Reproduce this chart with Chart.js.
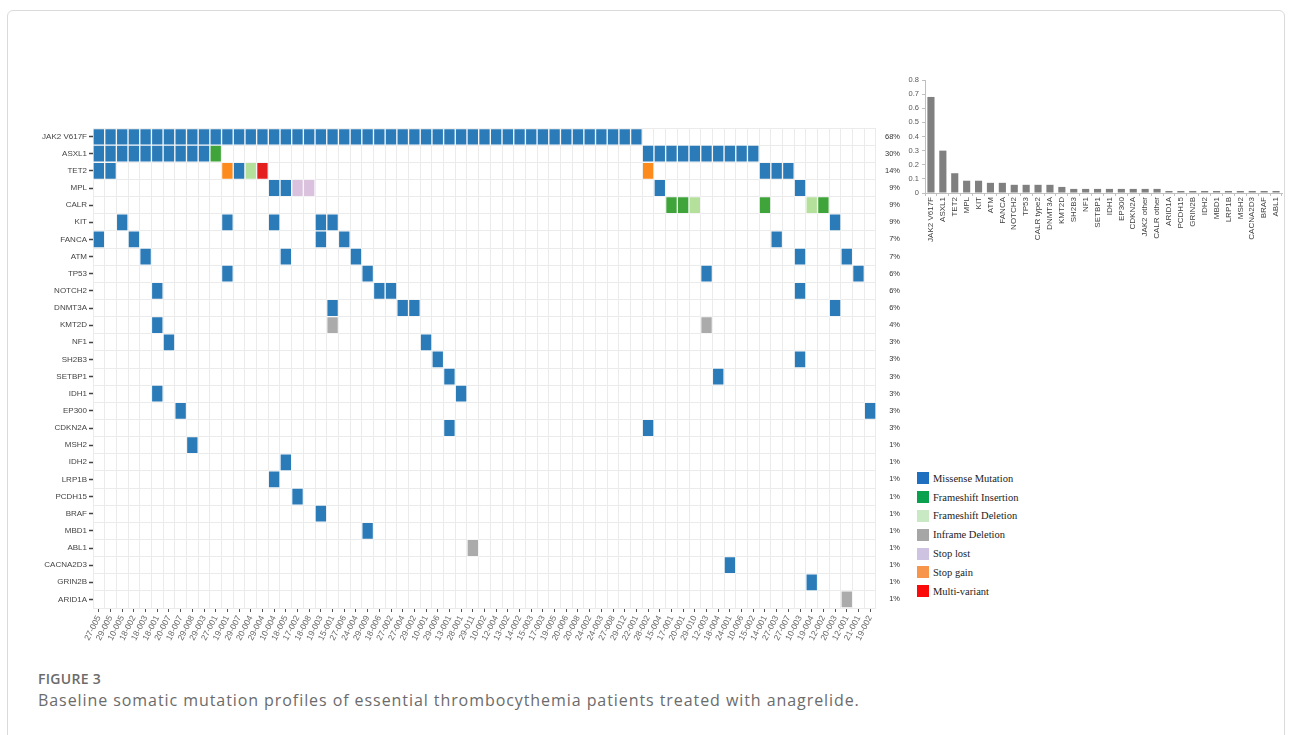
<!DOCTYPE html>
<html>
<head>
<meta charset="utf-8">
<script src="https://cdn.jsdelivr.net/npm/chart.js@4.4.1/dist/chart.umd.min.js"></script>
<style>
  html, body { margin: 0; padding: 0; background: #fff; width: 1293px; height: 735px; overflow: hidden; }
  .card { position: absolute; left: 7px; top: 10px; width: 1278px; height: 760px; border: 1px solid #dadada; border-radius: 6px; box-sizing: border-box; }
  #oncoprint { position: absolute; left: 0; top: 120px; }
  #freq { position: absolute; left: 895px; top: 70px; }
  .legend { position: absolute; left: 917px; top: 469px; font-family: 'Liberation Serif', serif; font-size: 10.5px; color: #222; }
  .legend .row { height: 18.8px; display: flex; align-items: center; white-space: nowrap; }
  .legend .sw { display: inline-block; width: 12px; height: 12px; margin-right: 4px; }
  .fig { position: absolute; left: 38px; top: 672px; font-family: 'Open Sans', sans-serif; font-weight: 600; font-size: 14px; line-height: 14px; letter-spacing: 0.3px; color: #6b6b6b; }
  .cap { position: absolute; left: 38px; top: 692px; font-family: 'Open Sans', sans-serif; font-size: 16px; line-height: 16px; letter-spacing: 0.93px; color: #6b6b6b; white-space: nowrap; }
</style>
</head>
<body>
<div class="card"></div>
<canvas id="oncoprint" width="900" height="533"></canvas>
<canvas id="freq" width="395" height="185"></canvas>
<div class="legend" id="legend"></div>
<div class="fig">FIGURE 3</div>
<div class="cap">Baseline somatic mutation profiles of essential thrombocythemia patients treated with anagrelide.</div>

<script>
// Patient identifiers (columns of the oncoprint)
const patients = [
  '27-005','29-005','10-005','18-002','18-003','18-001','20-007','18-007','29-008','29-003',
  '27-001','19-001','29-007','20-004','29-004','10-004','18-005','17-002','18-008','19-003',
  '15-001','27-006','24-004','29-009','18-006','27-002','27-004','29-002','10-001','29-006',
  '13-001','28-001','29-011','10-002','12-004','13-002','14-002','15-003','17-003','19-005',
  '20-006','20-008','24-002','24-003','27-008','29-012','22-001','28-002','15-004','17-001',
  '20-001','29-010','12-003','18-004','24-001','10-006','15-002','14-001','27-003','27-007',
  '10-003','19-004','12-002','20-003','12-001','21-001','19-002'
];

// Genes (rows) and their mutation frequency
const genes = [
  'JAK2 V617F','ASXL1','TET2','MPL','CALR','KIT','FANCA','ATM','TP53','NOTCH2',
  'DNMT3A','KMT2D','NF1','SH2B3','SETBP1','IDH1','EP300','CDKN2A','MSH2','IDH2',
  'LRP1B','PCDH15','BRAF','MBD1','ABL1','CACNA2D3','GRIN2B','ARID1A'
];
const genePct = [
  '68%','30%','14%','9%','9%','9%','7%','7%','6%','6%',
  '6%','4%','3%','3%','3%','3%','3%','3%','1%','1%',
  '1%','1%','1%','1%','1%','1%','1%','1%'
];

// Mutation codes per patient, one string per gene (blocks of 10 patients)
// M missense, I frameshift insertion, D frameshift deletion, F inframe deletion,
// L stop lost, G stop gain, V multi-variant, . wild type
const mutationRows = [
  'MMMMMMMMMM MMMMMMMMMM MMMMMMMMMM MMMMMMMMMM MMMMMMM... .......... .......', // JAK2 V617F
  'MMMMMMMMMM I......... .......... .......... .......MMM MMMMMMM... .......', // ASXL1
  'MM........ .GMDV..... .......... .......... .......G.. .......MMM .......', // TET2
  '.......... .....MMLL. .......... .......... ........M. .......... M......', // MPL
  '.......... .......... .......... .......... .........I ID.....I.. .DI....', // CALR
  '..M....... .M...M...M M......... .......... .......... .......... ...M...', // KIT
  'M..M...... .........M .M........ .......... .......... ........M. .......', // FANCA
  '....M..... ......M... ..M....... .......... .......... .......... M...M..', // ATM
  '.......... .M........ ...M...... .......... .......... ..M....... .....M.', // TP53
  '.....M.... .......... ....MM.... .......... .......... .......... M......', // NOTCH2
  '.......... .......... M.....MM.. .......... .......... .......... ...M...', // DNMT3A
  '.....M.... .......... F......... .......... .......... ..F....... .......', // KMT2D
  '......M... .......... ........M. .......... .......... .......... .......', // NF1
  '.......... .......... .........M .......... .......... .......... M......', // SH2B3
  '.......... .......... .......... M......... .......... ...M...... .......', // SETBP1
  '.....M.... .......... .......... .M........ .......... .......... .......', // IDH1
  '.......M.. .......... .......... .......... .......... .......... ......M', // EP300
  '.......... .......... .......... M......... .......M.. .......... .......', // CDKN2A
  '........M. .......... .......... .......... .......... .......... .......', // MSH2
  '.......... ......M... .......... .......... .......... .......... .......', // IDH2
  '.......... .....M.... .......... .......... .......... .......... .......', // LRP1B
  '.......... .......M.. .......... .......... .......... .......... .......', // PCDH15
  '.......... .........M .......... .......... .......... .......... .......', // BRAF
  '.......... .......... ...M...... .......... .......... .......... .......', // MBD1
  '.......... .......... .......... ..F....... .......... .......... .......', // ABL1
  '.......... .......... .......... .......... .......... ....M..... .......', // CACNA2D3
  '.......... .......... .......... .......... .......... .......... .M.....', // GRIN2B
  '.......... .......... .......... .......... .......... .......... ....F..'  // ARID1A
];

// Mutation classes
const typeCodes = ['M','I','D','F','L','G','V'];
const typeNames = ['Missense Mutation','Frameshift Insertion','Frameshift Deletion','Inframe Deletion','Stop lost','Stop gain','Multi-variant'];

// Frequency bar chart
const freqGenes = [
  'JAK2 V617F','ASXL1','TET2','MPL','KIT','ATM','FANCA','NOTCH2','TP53','CALR type2',
  'DNMT3A','KMT2D','SH2B3','NF1','SETBP1','IDH1','EP300','CDKN2A','JAK2 other','CALR other',
  'ARID1A','PCDH15','GRIN2B','IDH2','MBD1','LRP1B','MSH2','CACNA2D3','BRAF','ABL1'
];
const freqValues = [
  0.68, 0.30, 0.14, 0.087, 0.087, 0.072, 0.072, 0.058, 0.058, 0.058,
  0.058, 0.043, 0.029, 0.029, 0.029, 0.029, 0.029, 0.029, 0.029, 0.029,
  0.014, 0.014, 0.014, 0.014, 0.014, 0.014, 0.014, 0.014, 0.014, 0.014
];

// ---- styling ----
const cellColors = { M: '#2b7bb9', I: '#3fa43a', D: '#b5e09b', F: '#ababab', L: '#dac2de', G: '#fd8a1c', V: '#e4201f' };
const swatchColors = { M: '#1f6fc0', I: '#0aa14e', D: '#c8e9c3', F: '#a6a6a6', L: '#cec3e0', G: '#f7954a', V: '#fb0a0a' };
const GRID = '#ebebeb';
const SANS = "'Liberation Sans', Arial, sans-serif";

// ---- oncoprint ----
const cellDatasets = genes.map((gene, r) => {
  const codes = mutationRows[r].replace(/ /g, '').split('');
  return {
    label: gene,
    xAxisID: 'x',
    yAxisID: 'yv',
    data: codes.map(ch => (ch === '.' ? null : [r, r + 1])),
    backgroundColor: codes.map(ch => cellColors[ch] || 'rgba(0,0,0,0)'),
    borderColor: 'rgba(255,255,255,0.45)',
    borderWidth: 1,
    borderSkipped: false,
    grouped: false,
    barPercentage: 1,
    categoryPercentage: 1
  };
});

new Chart(document.getElementById('oncoprint'), {
  type: 'bar',
  data: { labels: patients, datasets: cellDatasets },
  options: {
    responsive: false,
    animation: false,
    devicePixelRatio: 1,
    layout: { padding: { top: 8, left: 0, right: 0, bottom: 0 } },
    plugins: { legend: { display: false }, tooltip: { enabled: false } },
    scales: {
      x: {
        type: 'category', position: 'top', offset: true,
        grid: { offset: true, color: GRID, drawTicks: false },
        border: { display: false },
        ticks: { display: false },
        afterFit: s => { s.height = 0; }
      },
      xLab: {
        type: 'category', position: 'bottom', offset: true,
        grid: { offset: false, drawOnChartArea: false, tickLength: 4, tickColor: '#555', tickWidth: 1 },
        border: { display: false },
        ticks: { autoSkip: false, minRotation: 63, maxRotation: 63, padding: 2, color: '#666', font: { family: SANS, size: 8.5 } },
        afterFit: s => { s.height = 45; }
      },
      yv: {
        type: 'linear', position: 'left', min: 0, max: 28, reverse: true,
        ticks: { display: false, stepSize: 1 },
        grid: { color: GRID, drawTicks: false },
        border: { display: false },
        afterFit: s => { s.width = 0; }
      },
      yLab: {
        type: 'category', position: 'left', labels: genes, offset: true,
        grid: { offset: false, drawOnChartArea: false, tickLength: 4, tickColor: '#444', tickWidth: 1.5 },
        border: { display: false },
        ticks: { autoSkip: false, padding: 2, color: '#444', font: { family: SANS, size: 8 } },
        afterFit: s => { s.width = 93; }
      },
      yPct: {
        type: 'category', position: 'right', labels: genePct, offset: true,
        grid: { display: false },
        border: { display: false },
        ticks: { autoSkip: false, padding: 3, crossAlign: 'far', color: '#333', font: { family: SANS, size: 7.5 } },
        afterFit: s => { s.width = 24; }
      }
    }
  }
});

// ---- frequency bars ----
new Chart(document.getElementById('freq'), {
  type: 'bar',
  data: {
    labels: freqGenes,
    datasets: [{ data: freqValues, backgroundColor: '#808080', barPercentage: 0.6, categoryPercentage: 1 }]
  },
  options: {
    responsive: false,
    animation: false,
    devicePixelRatio: 1,
    layout: { padding: { top: 10, right: 8, left: 0, bottom: 0 } },
    plugins: { legend: { display: false }, tooltip: { enabled: false } },
    scales: {
      x: {
        offset: true,
        grid: { offset: true, drawOnChartArea: false, tickLength: 3, color: '#bfbfbf' },
        border: { color: '#bfbfbf' },
        ticks: { autoSkip: false, minRotation: 90, maxRotation: 90, padding: 1, color: '#404040', font: { family: SANS, size: 8 } },
        afterFit: s => { s.height = 62; }
      },
      y: {
        min: 0, max: 0.8,
        ticks: { stepSize: 0.1, padding: 3, color: '#595959', font: { family: SANS, size: 7.5 },
                 callback: v => String(Math.round(v * 10) / 10) },
        grid: { drawOnChartArea: false, tickLength: 3, color: '#bfbfbf' },
        border: { color: '#bfbfbf' },
        afterFit: s => { s.width = 30; }
      }
    }
  }
});

// ---- legend ----
const legendEl = document.getElementById('legend');
typeCodes.forEach((code, i) => {
  const row = document.createElement('div');
  row.className = 'row';
  const sw = document.createElement('span');
  sw.className = 'sw';
  sw.style.background = swatchColors[code];
  row.appendChild(sw);
  row.appendChild(document.createTextNode(typeNames[i]));
  legendEl.appendChild(row);
});
</script>
</body>
</html>
